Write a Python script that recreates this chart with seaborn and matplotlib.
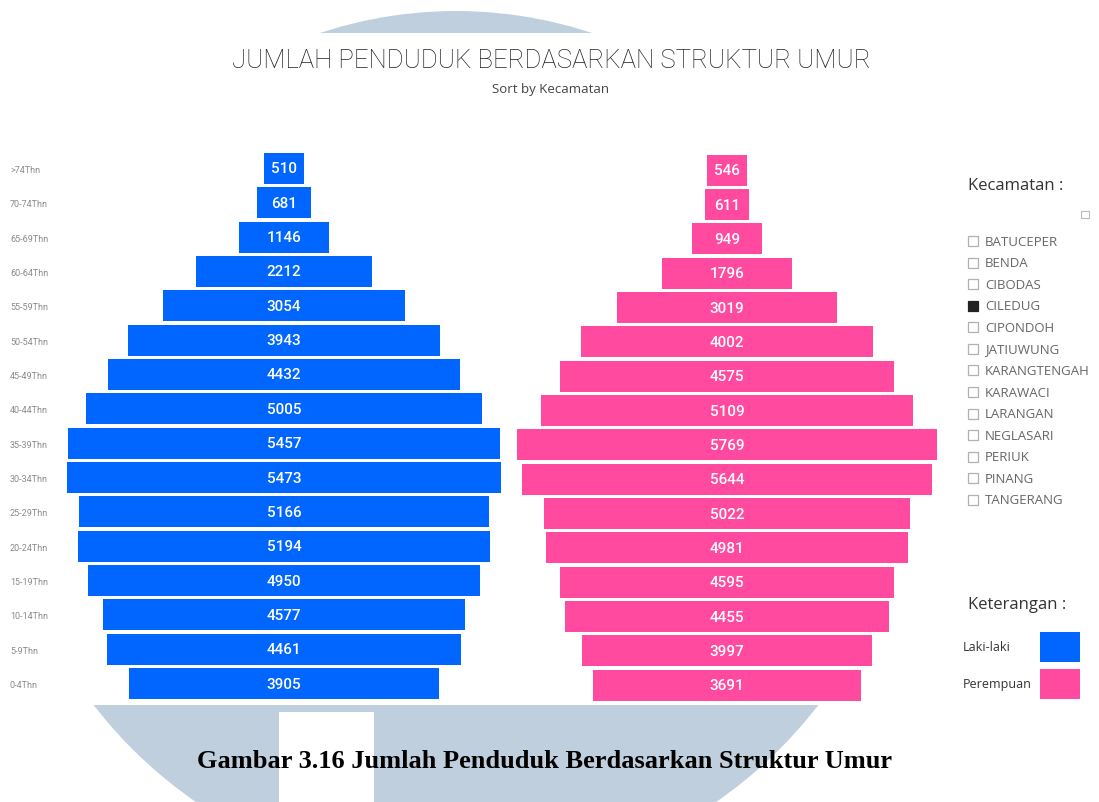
import numpy as np
import pandas as pd
import matplotlib
matplotlib.use("Agg")
import matplotlib.pyplot as plt
from matplotlib.patches import Rectangle, Circle
import seaborn as sns

# data
umur = [">74Thn", "70-74Thn", "65-69Thn", "60-64Thn", "55-59Thn", "50-54Thn",
        "45-49Thn", "40-44Thn", "35-39Thn", "30-34Thn", "25-29Thn", "20-24Thn",
        "15-19Thn", "10-14Thn", "5-9Thn", "0-4Thn"]
laki = [510, 681, 1146, 2212, 3054, 3943, 4432, 5005, 5457, 5473, 5166, 5194,
        4950, 4577, 4461, 3905]
perempuan = [546, 611, 949, 1796, 3019, 4002, 4575, 5109, 5769, 5644, 5022, 4981,
             4595, 4455, 3997, 3691]
kecamatan = ["BATUCEPER", "BENDA", "CIBODAS", "CILEDUG", "CIPONDOH", "JATIUWUNG",
             "KARANGTENGAH", "KARAWACI", "LARANGAN", "NEGLASARI", "PERIUK",
             "PINANG", "TANGERANG"]
dipilih = "CILEDUG"

BLUE = "#0066ff"
PINK = "#ff4aa0"
WATERMARK = "#bfcfdd"

df = pd.DataFrame({"umur": umur, "laki": laki, "perempuan": perempuan})

sns.set_theme(style="white")
plt.rcParams["font.family"] = ["Roboto", "DejaVu Sans"]

W, H = 1099, 803
fig = plt.figure(figsize=(W / 100, H / 100), dpi=100)


def px_axes(x0, y0, x1, y1):
    """axes from pixel box (top-left origin)"""
    return fig.add_axes([x0 / W, 1 - y1 / H, (x1 - x0) / W, (y1 - y0) / H])


# background layer: watermark, slicer and legend in pixel coordinates
bg = fig.add_axes([0, 0, 1, 1], zorder=0)
bg.set_xlim(0, W)
bg.set_ylim(H, 0)
bg.axis("off")
top_arc = Circle((456, 443), 431, color=WATERMARK, lw=0)
bg.add_patch(top_arc)
bottom_u = Circle((456, 426), 458, color=WATERMARK, lw=0)
bg.add_patch(bottom_u)
clip = Rectangle((0, 700), W, 200, transform=bg.transData)
bottom_u.set_clip_path(clip)
bg.add_patch(Rectangle((0, 34), W, 672, color="white", lw=0))
bg.add_patch(Rectangle((279, 713), 95, 100, color="white", lw=0))

bg.text(551, 61, "JUMLAH PENDUDUK BERDASARKAN STRUKTUR UMUR", ha="center",
        va="center", fontsize=18.5, fontweight="light", color="#222222")
bg.text(551, 89, "Sort by Kecamatan", ha="center", va="center", fontsize=9.5,
        color="#444444", family=["Open Sans", "DejaVu Sans"])

bg.text(968, 186, "Kecamatan :", ha="left", va="center", fontsize=12,
        color="#333333", family=["Open Sans", "DejaVu Sans"])
bg.add_patch(Rectangle((1081, 212), 8, 7, fill=False, ec="#bbbbbb", lw=0.8))
for i, k in enumerate(kecamatan):
    y = 242 + i * 21.58
    filled = k == dipilih
    bg.add_patch(Rectangle((968, y - 5), 10, 10, fc="#222222" if filled else "white",
                           ec="#222222" if filled else "#b0b0b0", lw=0.9))
    bg.text(985, y, k, ha="left", va="center", fontsize=9.5, color="#666666",
            family=["Open Sans", "DejaVu Sans"])

bg.text(1017, 605, "Keterangan :", ha="center", va="center", fontsize=12,
        color="#333333", family=["Open Sans", "DejaVu Sans"])
bg.text(963, 648, "Laki-laki", ha="left", va="center", fontsize=9,
        color="#333333", family=["Open Sans", "DejaVu Sans"])
bg.text(963, 685, "Perempuan", ha="left", va="center", fontsize=9,
        color="#333333", family=["Open Sans", "DejaVu Sans"])
bg.add_patch(Rectangle((1040, 633), 40, 30, color=BLUE, lw=0))
bg.add_patch(Rectangle((1040, 670), 40, 30, color=PINK, lw=0))

bg.text(545, 762, "Gambar 3.16 Jumlah Penduduk Berdasarkan Struktur Umur",
        ha="center", va="center", fontsize=19, fontweight="bold",
        family=["Liberation Serif", "DejaVu Serif"], color="black")


def pyramid(ax, col, color, half_px, scale):
    """centered bars: one half to the left, one to the right"""
    half = df[col] / 2
    sns.barplot(x=half, y=df["umur"], color=color, width=0.9, linewidth=0,
                saturation=1, orient="y", ax=ax)
    sns.barplot(x=-half, y=df["umur"], color=color, width=0.9, linewidth=0,
                saturation=1, orient="y", ax=ax)
    lim = half_px / scale
    ax.set_xlim(-lim, lim)
    ax.set_xlabel("")
    ax.set_ylabel("")
    ax.set_xticks([])
    ax.patch.set_visible(False)
    for sp in ax.spines.values():
        sp.set_visible(False)
    for i, v in enumerate(df[col]):
        ax.text(0, i, str(v), ha="center", va="center", color="white",
                fontsize=11, fontweight="medium")


ax_l = px_axes(40, 152.3, 528, 701.7)
ax_l.set_zorder(2)
pyramid(ax_l, "laki", BLUE, 244, 0.0793)
ax_l.tick_params(axis="y", length=0, pad=21.6, labelsize=6.5, labelcolor="#8a8a8a")
for t in ax_l.get_yticklabels():
    t.set_horizontalalignment("left")

ax_r = px_axes(512, 154, 942, 703.4)
ax_r.set_zorder(2)
pyramid(ax_r, "perempuan", PINK, 215, 0.0728)
ax_r.set_yticks([])

fig.savefig("out.png", dpi=100)
